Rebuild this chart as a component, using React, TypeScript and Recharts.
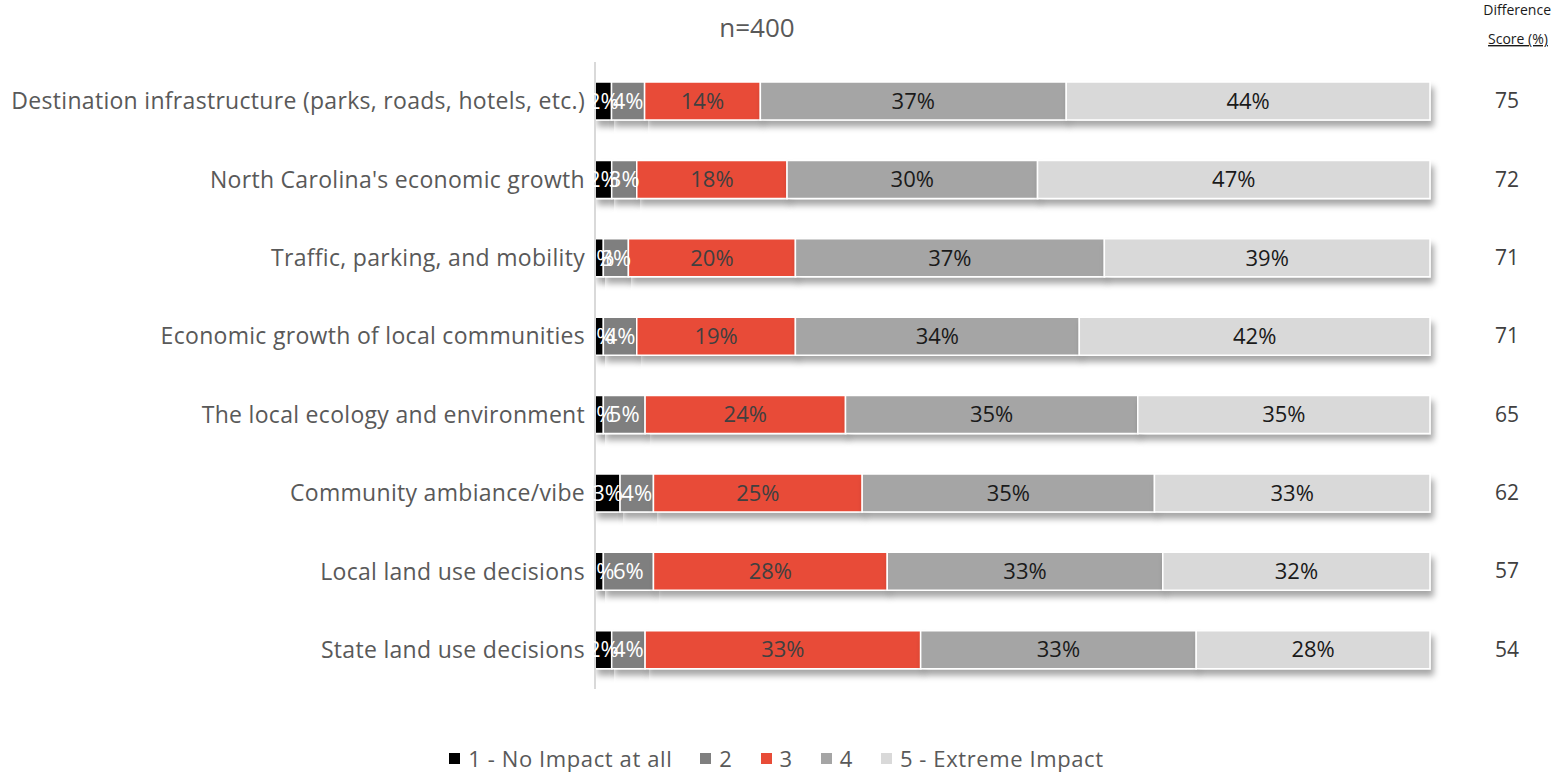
import React from "react";
import { BarChart, Bar, XAxis, YAxis, LabelList, Legend } from "recharts";

const categories = [
  "Destination infrastructure (parks, roads, hotels, etc.)",
  "North Carolina's economic growth",
  "Traffic, parking, and mobility",
  "Economic growth of local communities",
  "The local ecology and environment",
  "Community ambiance/vibe",
  "Local land use decisions",
  "State land use decisions",
];

// percent answering each level
const noImpact = [2, 2, 1, 1, 1, 3, 1, 2];
const level2 = [4, 3, 3, 4, 5, 4, 6, 4];
const level3 = [14, 18, 20, 19, 24, 25, 28, 33];
const level4 = [37, 30, 37, 34, 35, 35, 33, 33];
const extreme = [44, 47, 39, 42, 35, 33, 32, 28];
const diffScore = [75, 72, 71, 71, 65, 62, 57, 54];

const series = [
  { key: "s1", name: "1 - No Impact at all", values: noImpact, color: "#000000", text: "#ffffff" },
  { key: "s2", name: "2", values: level2, color: "#7f7f7f", text: "#ffffff" },
  { key: "s3", name: "3", values: level3, color: "#e84c38", text: "#404040" },
  { key: "s4", name: "4", values: level4, color: "#a5a5a5", text: "#1a1a1a" },
  { key: "s5", name: "5 - Extreme Impact", values: extreme, color: "#d9d9d9", text: "#1a1a1a" },
];

const data = categories.map((name, i) => {
  const row: Record<string, string | number> = { name, score: String(diffScore[i]) };
  series.forEach((s) => {
    row[s.key] = s.values[i];
  });
  return row;
});

const FONT = "'Open Sans', sans-serif";

const LegendBox = () => (
  <div
    style={{
      display: "flex",
      justifyContent: "center",
      alignItems: "center",
      fontFamily: FONT,
      fontSize: 22,
      letterSpacing: 0.6,
      color: "#595959",
    }}
  >
    {series.map((s, i) => (
      <div
        key={s.key}
        style={{ display: "flex", alignItems: "center", marginLeft: i === 0 ? 0 : 28 }}
      >
        <span
          style={{ width: 11, height: 11, background: s.color, display: "inline-block", marginRight: 8 }}
        />
        <span>{s.name}</span>
      </div>
    ))}
  </div>
);

const ScoreTick = (props: any) => {
  const { x, y, payload } = props;
  return (
    <text x={x + 75} y={y} dy={7} textAnchor="middle" fill="#404040" fontSize={21} fontFamily={FONT}>
      {payload.value}
    </text>
  );
};

export default function App() {
  return (
    <div style={{ position: "absolute", left: 0, top: 0, width: 1553, height: 773, background: "#fff" }}>
      <BarChart
        width={1553}
        height={773}
        data={data}
        layout="vertical"
        stackOffset="expand"
        margin={{ top: 62, right: 13, left: 0, bottom: 54 }}
        style={{ fontFamily: FONT }}
      >
        <defs>
          <filter id="barShadow" x="-5%" y="-30%" width="115%" height="180%">
            <feDropShadow dx="3" dy="6" stdDeviation="3" floodColor="#000" floodOpacity="0.35" />
          </filter>
        </defs>
        <XAxis type="number" hide domain={[0, 1]} />
        <YAxis
          yAxisId="cat"
          type="category"
          dataKey="name"
          width={595}
          tickSize={0}
          tickMargin={10}
          tickLine={false}
          axisLine={{ stroke: "#d9d9d9", strokeWidth: 2 }}
          tick={{ fill: "#595959", fontSize: 23, letterSpacing: 0.3 }}
          interval={0}
        />
        <YAxis
          yAxisId="score"
          orientation="right"
          type="category"
          dataKey="score"
          width={110}
          tickSize={0}
          tickLine={false}
          axisLine={false}
          tick={<ScoreTick />}
          interval={0}
        />
        {series.map((s) => (
          <Bar
            key={s.key}
            dataKey={s.key}
            name={s.name}
            yAxisId="cat"
            stackId="a"
            fill={s.color}
            stroke="#ffffff"
            strokeWidth={1.5}
            barSize={38}
            filter="url(#barShadow)"
            isAnimationActive={false}
          >
            <LabelList
              dataKey={s.key}
              position="center"
              formatter={(v: any) => `${v}%`}
              fill={s.text}
              fontSize={22}
              fontFamily={FONT}
            />
          </Bar>
        ))}
        <Legend
          verticalAlign="bottom"
          content={<LegendBox />}
          wrapperStyle={{ left: 0, bottom: 0, width: 1553 }}
        />
        <text x={757} y={37} textAnchor="middle" fill="#595959" fontSize={26} fontFamily={FONT}>
          n=400
        </text>
        <text x={1551} y={15} textAnchor="end" fill="#1a1a1a" fontSize={14} fontFamily={FONT}>
          Difference
        </text>
        <text
          x={1518}
          y={44}
          textAnchor="middle"
          fill="#1a1a1a"
          fontSize={14}
          fontFamily={FONT}
          textDecoration="underline"
        >
          Score (%)
        </text>
      </BarChart>
    </div>
  );
}
